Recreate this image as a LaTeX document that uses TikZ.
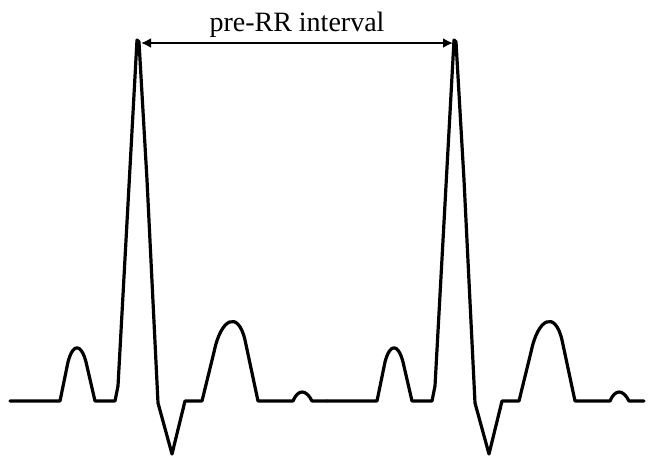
\documentclass[tikz,border=0pt]{standalone}
\usepackage{fontspec}
\setmainfont{Liberation Serif}
\usepackage{tikz}
\usetikzlibrary{arrows.meta}

\begin{document}
\begin{tikzpicture}[>={Latex[length=5pt,width=5pt]}, x=0.5pt, y=-0.5pt,
    trace/.style={line width=1.6pt, line join=round, line cap=round},
    span/.style={<->, line width=1.1pt},
    every node/.style={font=\fontsize{14}{16}\selectfont}]
  \useasboundingbox (0,0) rectangle (653,473);

  % two beats of the trace
  \foreach \off in {0,317} {
    \draw [trace, shift={(\off,0)}]
      (10,401) -- (60,401) -- (68,362) .. controls (73,343) and (81,343) .. (86,362) -- (95,401)
      -- (115,401) -- (118,386) -- (137,40) -- (139,42) -- (147,180) -- (158,403) -- (172,454)
      -- (185,401) -- (202,401)
      -- (214,352) .. controls (221,318) and (238,310) .. (245,340) -- (258,401)
      -- (293,401) .. controls (298,389) and (306,389) .. (312,401) -- (327,401);
  }

  \coordinate (R1) at (141,43);
  \coordinate (R2) at (453,43);
  \draw [span] (R1) -- node[above, inner sep=2pt] (lbl) {pre-RR interval} (R2);
\end{tikzpicture}
\end{document}
